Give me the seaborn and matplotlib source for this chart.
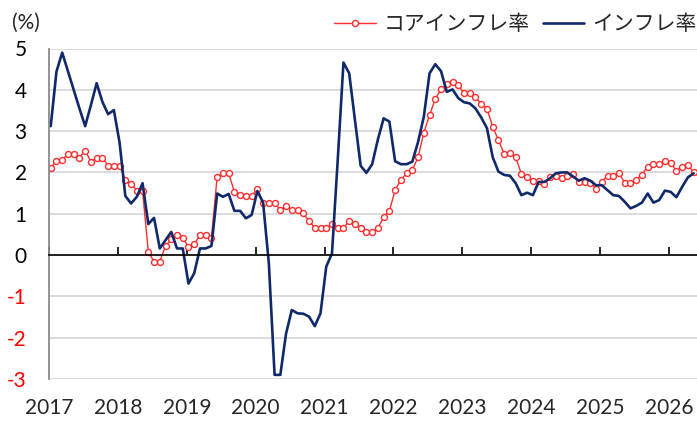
import numpy as np
import pandas as pd
import matplotlib
matplotlib.use('Agg')
import matplotlib.pyplot as plt
import seaborn as sns

# monthly values, Jan 2017 onward
start_year = 2017
core = [2.11, 2.28, 2.30, 2.45, 2.45, 2.36, 2.53, 2.26, 2.36, 2.36, 2.16, 2.16,
        2.16, 1.82, 1.73, 1.56, 1.56, 0.08, -0.16, -0.16, 0.22, 0.38, 0.48, 0.42,
        0.19, 0.26, 0.48, 0.48, 0.42, 1.90, 1.98, 1.98, 1.53, 1.45, 1.43, 1.43,
        1.60, 1.27, 1.27, 1.27, 1.09, 1.19, 1.09, 1.09, 1.01, 0.83, 0.66, 0.66,
        0.66, 0.74, 0.66, 0.66, 0.82, 0.74, 0.65, 0.55, 0.55, 0.66, 0.91, 1.07,
        1.57, 1.82, 1.98, 2.06, 2.37, 2.96, 3.39, 3.78, 4.01, 4.14, 4.20, 4.11,
        3.92, 3.92, 3.82, 3.66, 3.54, 3.11, 2.78, 2.45, 2.47, 2.37, 1.96, 1.90,
        1.79, 1.79, 1.71, 1.88, 1.91, 1.86, 1.91, 1.96, 1.77, 1.78, 1.75, 1.61,
        1.78, 1.92, 1.92, 1.98, 1.75, 1.75, 1.82, 1.95, 2.14, 2.20, 2.20, 2.28,
        2.24, 2.04, 2.14, 2.19, 2.00]
headline = [3.12, 4.44, 4.90, 4.45, 4.00, 3.55, 3.12, 3.63, 4.16, 3.71, 3.41, 3.51,
            2.72, 1.43, 1.25, 1.41, 1.74, 0.75, 0.90, 0.16, 0.36, 0.56, 0.16, 0.16,
            -0.69, -0.44, 0.16, 0.16, 0.22, 1.49, 1.41, 1.48, 1.07, 1.07, 0.89, 0.97,
            1.55, 1.27, -0.20, -2.90, -2.90, -1.90, -1.33, -1.41, -1.42, -1.49, -1.72, -1.41,
            -0.28, 0.04, 2.30, 4.66, 4.40, 3.27, 2.16, 1.99, 2.20, 2.80, 3.31, 3.23,
            2.27, 2.20, 2.20, 2.26, 2.74, 3.35, 4.40, 4.62, 4.45, 3.95, 4.01, 3.80,
            3.70, 3.67, 3.55, 3.33, 3.07, 2.37, 2.02, 1.94, 1.92, 1.74, 1.45, 1.51,
            1.45, 1.77, 1.77, 1.86, 1.98, 2.00, 2.00, 1.90, 1.80, 1.86, 1.80, 1.69,
            1.69, 1.57, 1.45, 1.43, 1.29, 1.13, 1.19, 1.27, 1.49, 1.27, 1.33, 1.56,
            1.53, 1.40, 1.65, 1.88, 1.98]
years = list(range(2017, 2027))
yticks = list(range(-3, 6))

RED = '#ff2d2d'
NAVY = '#10296a'

t = start_year + (np.arange(len(core)) + 0.3) / 12
df = pd.DataFrame({'t': t, 'core': core, 'headline': headline})

sns.set_theme(style='white')
plt.rcParams['font.family'] = ['Lato', 'Noto Sans CJK JP', 'DejaVu Sans']

W, H = 697, 421
fig = plt.figure(figsize=(W / 100, H / 100), dpi=100)
left, top, bottom = 49, 48.5, 379
ax = fig.add_axes([left / W, 1 - bottom / H, 1 - left / W, (bottom - top) / H])

sns.lineplot(data=df, x='t', y='core', ax=ax, color=RED, lw=1.0, marker='o',
             markersize=4.3, markerfacecolor='white', markeredgecolor=RED,
             markeredgewidth=1.0, estimator=None, label='コアインフレ率')
sns.lineplot(data=df, x='t', y='headline', ax=ax, color=NAVY, lw=1.9,
             estimator=None, label='インフレ率')

ax.set_xlim(2017, 2017 + (W - left) / 68.88)
ax.set_ylim(-3, 5)
ax.set_yticks(yticks)
ax.set_yticklabels([str(v) for v in yticks])
for lab, v in zip(ax.get_yticklabels(), yticks):
    lab.set_color('red' if v < 0 else 'black')
ax.tick_params(axis='y', length=0, pad=16, labelsize=15)
ax.yaxis.grid(True, color='#d9d9d9', lw=1.3)
ax.set_axisbelow(True)

for s in ['top', 'right']:
    ax.spines[s].set_visible(False)
ax.spines['left'].set_color('#8a8a8a')
ax.spines['left'].set_linewidth(1.3)
ax.spines['bottom'].set_position(('data', 0))
ax.spines['bottom'].set_color('black')
ax.spines['bottom'].set_linewidth(1.2)
ax.set_xticks(years)
ax.tick_params(axis='x', direction='in', length=6, width=1.2, color='black',
               labelbottom=False, bottom=True)
ax.set_xlabel('')
ax.set_ylabel('')

sec = ax.secondary_xaxis(0.0)
sec.set_xticks(years)
sec.set_xticklabels([str(y) for y in years])
sec.spines['bottom'].set_visible(False)
sec.tick_params(length=0, pad=14, labelsize=15)

ax.legend(ncol=2, frameon=False, loc='center right',
          bbox_to_anchor=(1.0, 1 - 24 / H), bbox_transform=fig.transFigure,
          prop={'family': ['Noto Sans CJK JP'], 'size': 15},
          handlelength=2.0, handletextpad=0.4, columnspacing=0.6,
          borderaxespad=0, borderpad=0)

fig.text(12 / W, 1 - 23 / H, '(%)', fontsize=15, va='center', ha='left')

fig.savefig('out.png', dpi=100)
